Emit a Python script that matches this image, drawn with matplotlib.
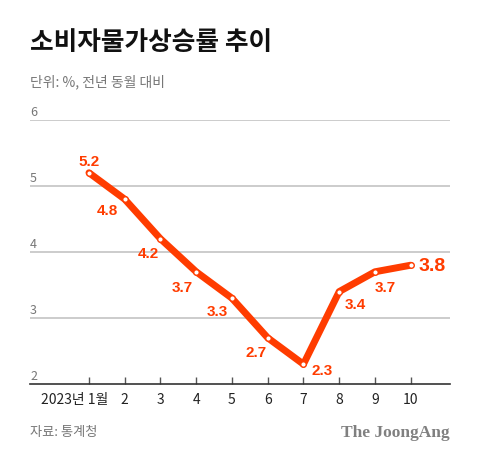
import matplotlib.pyplot as plt
from matplotlib.transforms import blended_transform_factory, ScaledTranslation

plt.rcParams['font.family'] = ['Noto Sans CJK KR', 'DejaVu Sans']

months = [1, 2, 3, 4, 5, 6, 7, 8, 9, 10]
month_labels = ['2023년 1월', '2', '3', '4', '5', '6', '7', '8', '9', '10']
inflation = [5.2, 4.8, 4.2, 3.7, 3.3, 2.7, 2.3, 3.4, 3.7, 3.8]
yticks = [2, 3, 4, 5, 6]

RED = '#ff3c00'
GRAY = '#777777'

# label offsets in pixels (dx, dy)
offsets = [(0, 12), (-17, -11), (-12, -14), (-14, -15), (-15, -13),
           (-12, -14), (19, -6), (16, -12), (10, -15), (21, 0)]


def main():
    fig = plt.figure(figsize=(4.8, 4.6), dpi=100)
    ax = fig.add_axes([0.0625, 0.163, 0.875, 0.574])
    ax.set_xlim(-0.65, 11.1)
    ax.set_ylim(2, 6)

    for y in yticks[1:]:
        ax.axhline(y, color='#c8c8c8', lw=1.3, zorder=1)
    for s in ['top', 'right', 'left']:
        ax.spines[s].set_visible(False)
    ax.spines['bottom'].set_color('#333333')
    ax.spines['bottom'].set_linewidth(1.2)

    ax.set_yticks([])
    trans = blended_transform_factory(ax.transAxes, ax.transData)
    for y in yticks:
        ax.annotate(str(y), (0, y), xycoords=trans, xytext=(0, 2),
                    textcoords='offset pixels', ha='left', va='bottom',
                    fontsize=9, color=GRAY)

    ax.set_xticks(months)
    ax.set_xticklabels(month_labels, fontsize=10, color='#222222')
    ax.tick_params(axis='x', direction='in', length=5, width=1,
                   color='#555555', pad=6)
    # '1월' should sit under the first tick, the year sticks out left
    lbl = ax.get_xticklabels()[0]
    lbl.set_ha('right')
    lbl.set_transform(lbl.get_transform()
                      + ScaledTranslation(0.19, 0, fig.dpi_scale_trans))

    ax.plot(months, inflation, color=RED, lw=5, solid_capstyle='round',
            solid_joinstyle='round', zorder=3)
    ax.plot(months, inflation, 'o', ms=4, mfc='white', mec=RED, mew=1,
            zorder=4)

    for i, (m, v) in enumerate(zip(months, inflation)):
        dx, dy = offsets[i]
        last = i == len(months) - 1
        ax.annotate(f'{v:.1f}', (m, v), xytext=(dx, dy),
                    textcoords='offset pixels', ha='center', va='center',
                    fontsize=14 if last else 11, fontweight='bold',
                    color=RED, family=['Liberation Sans', 'DejaVu Sans'],
                    zorder=5)

    fig.text(30 / 480, 1 - 42 / 460, '소비자물가상승률 추이', fontsize=18.5,
             fontweight='black', color='#111111', va='center', ha='left')
    fig.text(30 / 480, 1 - 82 / 460, '단위: %, 전년 동월 대비', fontsize=10,
             color=GRAY, va='center', ha='left')
    fig.text(30 / 480, 1 - 433 / 460, '자료: 통계청', fontsize=9.5,
             color=GRAY, va='center', ha='left')
    fig.text(450 / 480, 1 - 433 / 460, 'The JoongAng', fontsize=12.5,
             fontweight='bold', color='#808080', va='center', ha='right',
             family=['Liberation Serif', 'DejaVu Serif'])

    fig.savefig('out.png', dpi=100)


if __name__ == '__main__':
    main()
